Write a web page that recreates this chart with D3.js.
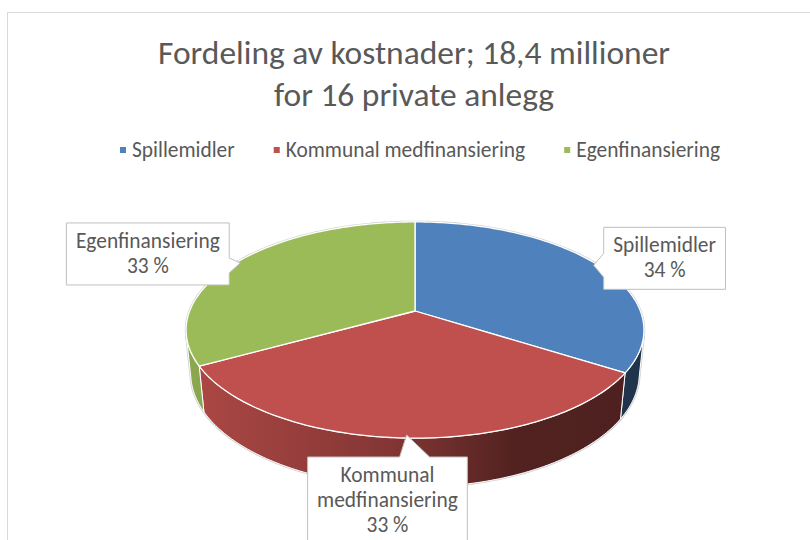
<!DOCTYPE html>
<html>
<head>
<meta charset="utf-8">
<script src="https://cdn.jsdelivr.net/npm/d3@7"></script>
<style>
  body { margin: 0; background: #fff; }
  text { font-family: Carlito, Calibri, Lato, sans-serif; fill: #595959; }
</style>
</head>
<body>
<svg id="chart" width="810" height="540"></svg>
<script>
// data
var categories = ["Spillemidler", "Kommunal medfinansiering", "Egenfinansiering"]
var shares = [34, 33, 33]
var colors = ["#4f81bd", "#c0504d", "#9bbb59"]
var labelLines = [["Spillemidler"], ["Kommunal", "medfinansiering"], ["Egenfinansiering"]]
var titleLines = ["Fordeling av kostnader; 18,4 millioner", "for 16 private anlegg"]

// which side of its pointer tip each callout box sits on (layout only)
var calloutSide = ["right", "below", "left"]

var svg = d3.select("#chart")

// chart area frame
svg.append("rect")
    .attr("x", 7.5).attr("y", 12.5)
    .attr("width", 900).attr("height", 600)
    .attr("fill", "none").attr("stroke", "#d9d9d9")

// fit a font size so a string gets a given width
function fitSize(str, target, base) {
  var t = svg.append("text").attr("font-size", base).text(str)
  var w = t.node().getComputedTextLength()
  t.remove()
  return base * target / w
}

var titleSize = fitSize(titleLines[0], 512, 30)
var textSize = fitSize("Egenfinansiering", 144, 18)

// title
svg.append("g").selectAll("text")
    .data(titleLines)
  .enter().append("text")
    .attr("x", 414)
    .attr("y", function(d, i) { return 64 + i * 42 })
    .attr("text-anchor", "middle")
    .attr("font-size", titleSize)
    .text(function(d) { return d })

// legend, centred as a row
var legend = svg.append("g").attr("class", "legend")
var items = legend.selectAll("g")
    .data(categories)
  .enter().append("g")
items.append("rect")
    .attr("width", 6).attr("height", 6)
    .attr("y", 147)
    .attr("fill", function(d, i) { return colors[i] })
items.append("text")
    .attr("x", 12)
    .attr("y", 157)
    .attr("font-size", textSize)
    .text(function(d) { return d })
var widths = []
items.selectAll("text").each(function() { widths.push(this.getComputedTextLength() + 12) })
var gap = 39
var total = d3.sum(widths) + gap * (widths.length - 1)
var x0 = 420 - total / 2
items.attr("transform", function(d, i) {
  var x = x0 + d3.sum(widths.slice(0, i)) + gap * i
  return "translate(" + x + ",0)"
})

// 3D pie: perspective projection of a tilted disc
var cx = 415, cy = 311
var F = 1133.6, D = 5.03
var tilt = 27.7 * Math.PI / 180
var C = Math.cos(tilt), S = Math.sin(tilt)
var depthH = 0.22

function project(theta, r, h) {
  var u = r * Math.sin(theta), v = r * Math.cos(theta)
  var depth = D + v * C - h * S
  return [cx + F * u / depth, cy - F * (v * S + h * C) / depth]
}

function arcPoints(a0, a1, h) {
  var n = Math.max(2, Math.ceil((a1 - a0) / (Math.PI / 180)) + 1)
  return d3.range(n).map(function(k) { return project(a0 + (a1 - a0) * k / (n - 1), 1, h) })
}

var line = d3.line().curve(d3.curveLinear)

var arcs = d3.pie().sort(null).value(function(d) { return d })(shares)
var sum = d3.sum(shares)

// outer walls are visible only where they face the camera
var thMin = Math.acos(-1 / (D * C)), thMax = 2 * Math.PI - thMin

var rimX = d3.range(0, 360).map(function(a) { return project(a * Math.PI / 180, 1, 0)[0] })
var leftX = d3.min(rimX), rightX = d3.max(rimX)

var defs = svg.append("defs")
function shade(c, k) { var r = d3.rgb(c); return d3.rgb(r.r * k, r.g * k, r.b * k) }
var stops = [[0, 0.9], [0.45, 0.68], [0.72, 0.42], [1, 0.4]]
colors.forEach(function(c, i) {
  var g = defs.append("linearGradient")
      .attr("id", "wall" + i)
      .attr("gradientUnits", "userSpaceOnUse")
      .attr("x1", leftX).attr("x2", rightX).attr("y1", 0).attr("y2", 0)
  stops.forEach(function(s) {
    g.append("stop").attr("offset", s[0]).attr("stop-color", shade(c, s[1]))
  })
})

var walls = []
arcs.forEach(function(d, i) {
  var a = Math.max(d.startAngle, thMin), b = Math.min(d.endAngle, thMax)
  if (b > a) {
    var pts = arcPoints(a, b, 0).concat(arcPoints(a, b, -depthH).reverse())
    walls.push({ i: i, pts: pts })
  }
})

function topFace(d) {
  return [project(0, 0, 0)].concat(arcPoints(d.startAngle, d.endAngle, 0))
}

var pie = svg.append("g").attr("class", "pie")

// soft grey rim under everything
pie.selectAll(".rim-wall")
    .data(walls)
  .enter().append("path")
    .attr("d", function(w) { return line(w.pts) + "Z" })
    .attr("fill", "#fff").attr("stroke", "#cfcfcf").attr("stroke-width", 2.5)
pie.append("path")
    .attr("d", line(arcPoints(0, 2 * Math.PI, 0)) + "Z")
    .attr("fill", "#fff").attr("stroke", "#cfcfcf").attr("stroke-width", 2.5)

pie.selectAll(".wall")
    .data(walls)
  .enter().append("path")
    .attr("class", "wall")
    .attr("d", function(w) { return line(w.pts) + "Z" })
    .attr("fill", function(w) { return "url(#wall" + w.i + ")" })
    .attr("stroke", "#fff").attr("stroke-width", 1)
    .attr("stroke-linejoin", "round")

pie.selectAll(".slice")
    .data(arcs)
  .enter().append("path")
    .attr("class", "slice")
    .attr("d", function(d) { return line(topFace(d)) + "Z" })
    .attr("fill", function(d, i) { return colors[i] })
    .attr("stroke", "#fff").attr("stroke-width", 1.3)
    .attr("stroke-linejoin", "round")

// callouts
var lineH = 25, padX = 9.5, padY = 6
var callouts = svg.append("g").attr("class", "callouts")
arcs.forEach(function(d, i) {
  var mid = (d.startAngle + d.endAngle) / 2
  var tip = project(mid, 0.98, 0)
  var lines = labelLines[i].concat([Math.round(d.value / sum * 100) + " %"])
  var g = callouts.append("g")
  var texts = g.selectAll("text").data(lines).enter().append("text")
      .attr("text-anchor", "middle")
      .attr("font-size", textSize)
      .text(function(t) { return t })
  var tw = 0
  texts.each(function() { tw = Math.max(tw, this.getComputedTextLength()) })
  var bw = tw + 2 * padX, bh = lines.length * lineH + 2 * padY
  var bx, by, path
  if (calloutSide[i] == "left") {
    bx = tip[0] - 11 - bw; by = tip[1] - 40
    var ex = bx + bw
    path = [[bx, by], [ex, by], [ex, tip[1] - 5], [tip[0], tip[1]], [ex, tip[1] + 10], [ex, by + bh], [bx, by + bh]]
  } else if (calloutSide[i] == "right") {
    bx = tip[0] + 10; by = tip[1] - 38
    path = [[bx, by], [bx + bw, by], [bx + bw, by + bh], [bx, by + bh], [bx, tip[1] + 12], [tip[0], tip[1]], [bx, tip[1] - 12]]
  } else {
    bx = tip[0] - 99; by = tip[1] + 22
    path = [[bx, by], [tip[0] - 7, by], [tip[0], tip[1]], [tip[0] + 23, by], [bx + bw, by], [bx + bw, by + bh], [bx, by + bh]]
  }
  g.insert("path", "text")
      .attr("d", line(path) + "Z")
      .attr("fill", "#fff").attr("stroke", "#bfbfbf").attr("stroke-width", 1)
  texts.attr("x", bx + bw / 2)
      .attr("y", function(t, k) { return by + padY + 19 + k * lineH })
})
</script>
</body>
</html>
